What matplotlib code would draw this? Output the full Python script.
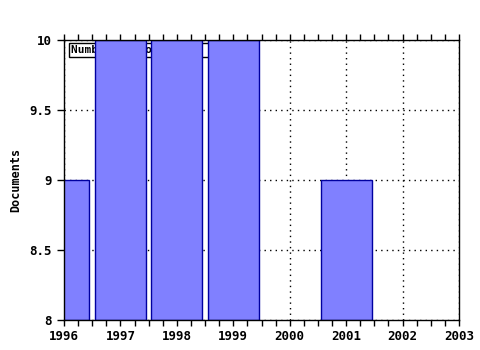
import matplotlib
matplotlib.use("Agg")
import matplotlib.pyplot as plt
from matplotlib.ticker import MultipleLocator

years = [1996, 1997, 1998, 1999, 2001]
docs = [9, 10, 10, 10, 9]
xticks = [1996, 1997, 1998, 1999, 2000, 2001, 2002, 2003]
yticks = [8, 8.5, 9, 9.5, 10]
ytick_labels = ["8", "8.5", "9", "9.5", "10"]

plt.rcParams["font.family"] = "DejaVu Sans Mono"
plt.rcParams["font.weight"] = "bold"

fig = plt.figure(figsize=(4.8, 3.5), dpi=100)
ax = fig.add_axes([64 / 480, 30 / 350, 395 / 480, 280 / 350])

ax.bar(years, [d - 8 for d in docs], bottom=8, width=0.9,
       color="#8080ff", edgecolor="#0000a0", linewidth=1, zorder=2)

ax.set_xlim(1996, 2003)
ax.set_ylim(8, 10)
ax.set_xticks(xticks)
ax.set_xticklabels([str(x) for x in xticks], fontsize=9, fontweight="bold")
ax.set_yticks(yticks)
ax.set_yticklabels(ytick_labels, fontsize=9, fontweight="bold")
ax.xaxis.set_minor_locator(MultipleLocator(0.25))
ax.tick_params(axis="x", which="both", direction="out", top=True, bottom=True,
               length=4, width=1, color="black", pad=3)
ax.tick_params(axis="y", which="both", direction="out", left=True, right=False,
               length=5, width=1, color="black", pad=4)
ax.set_axisbelow(True)
ax.grid(True, which="major", ls=(0, (1, 3)), color="black", lw=1)
for s in ax.spines.values():
    s.set_color("black")
    s.set_linewidth(1)

ax.set_ylabel("Documents", fontsize=8.5, fontweight="bold", labelpad=5)

ax.text(1996.13, 9.93, "Number of documents  ", fontsize=8, fontweight="bold",
        va="center", ha="left", zorder=1.5,
        bbox=dict(boxstyle="square,pad=0.2", fc="white", ec="black", lw=1))

fig.savefig("out.png", dpi=100)
